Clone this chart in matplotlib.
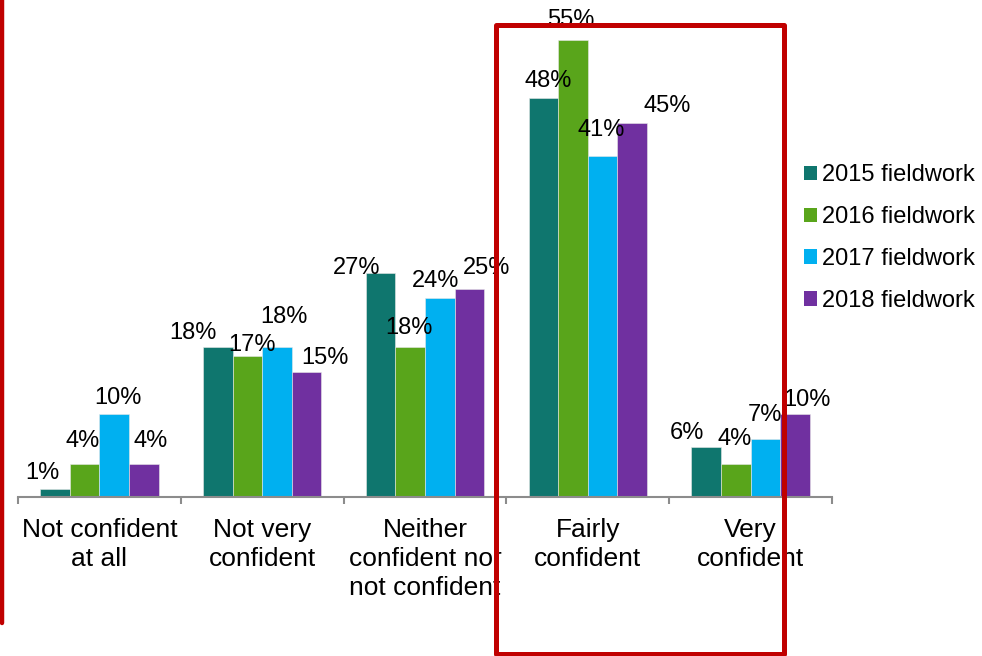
import numpy as np
import matplotlib
matplotlib.use("Agg")
import matplotlib.pyplot as plt
from matplotlib.patches import Rectangle, Patch
from matplotlib.lines import Line2D

plt.rcParams['font.family'] = ['Liberation Sans', 'DejaVu Sans']

# Data
categories = ["Not confident\nat all", "Not very\nconfident",
              "Neither\nconfident nor\nnot confident", "Fairly\nconfident",
              "Very\nconfident"]
series = ["2015 fieldwork", "2016 fieldwork", "2017 fieldwork", "2018 fieldwork"]
v2015 = [1, 18, 27, 48, 6]
v2016 = [4, 17, 18, 55, 4]
v2017 = [10, 18, 24, 41, 7]
v2018 = [4, 15, 25, 45, 10]
colors = ["#0F766E", "#59A51B", "#00B0F0", "#7030A0"]

# label nudges (pixels: dx from bar centre, dy of label centre above bar top)
label_dx = [[-13, -25, -24, 5, -19],
            [-2, 5, -1, -2, -1],
            [4, 7, -4, -1, 0],
            [7, 18, 17, 35, 12]]
label_dy = [[16, 14, 5, 17, 14],
            [23, 11, 19, 20, 25],
            [16, 30, 17, 26, 24],
            [23, 14, 21, 17, 14]]

W, H = 982, 656
fig = plt.figure(figsize=(W / 100, H / 100), dpi=100)
ax = fig.add_axes([18 / W, 159 / H, 814 / W, 0.756])

x = np.arange(len(categories))
width = 0.182
values = [v2015, v2016, v2017, v2018]
px2pt = 0.72
for i, (vals, col) in enumerate(zip(values, colors)):
    pos = x + (i - 1.5) * width
    ax.bar(pos, vals, width, color=col, edgecolor="#e8e8e8", linewidth=0.4,
           label=series[i], zorder=2)
    for j, (p, v) in enumerate(zip(pos, vals)):
        ax.annotate(f"{v}%", (p, v),
                    xytext=(label_dx[i][j] * px2pt, label_dy[i][j] * px2pt),
                    textcoords="offset points", ha="center", va="center",
                    fontsize=17, color="black", zorder=3)

ax.set_xlim(-0.5, len(categories) - 0.5)
ax.set_ylim(0, 59.7)
for s in ["top", "right", "left"]:
    ax.spines[s].set_visible(False)
ax.spines["bottom"].set_color("#8c8c8c")
ax.spines["bottom"].set_linewidth(1.5)
ax.set_yticks([])
ax.set_xticks(x)
ax.set_xticklabels(categories, fontsize=19, linespacing=1.27)
ax.tick_params(axis="x", which="major", length=0, pad=15)
ax.set_xticks(np.arange(len(categories) + 1) - 0.5, minor=True)
ax.tick_params(axis="x", which="minor", length=5, width=1.5, color="#8c8c8c")

# legend
handles = [Patch(facecolor=c, edgecolor="none") for c in colors]
fig.legend(handles, series, loc="center left", bbox_to_anchor=(804 / W, 1 - 238 / H),
           frameon=False, fontsize=17, handlelength=0.55, handleheight=0.55,
           handletextpad=0.2, labelspacing=0.84, borderpad=0, borderaxespad=0)

# red highlight box and left edge line
red = "#C00000"
fig.patches.append(Rectangle((496 / W, 1 - 654 / H), (784 - 496) / W, (654 - 25) / H,
                             transform=fig.transFigure, fill=False, edgecolor=red,
                             linewidth=3.6, zorder=10, joinstyle="round"))
fig.lines.append(Line2D([2 / W, 2 / W], [1.0, 1 - 623 / H], transform=fig.transFigure,
                        color=red, linewidth=3.2, solid_capstyle="round", zorder=10))

fig.savefig("out.png", dpi=100)
